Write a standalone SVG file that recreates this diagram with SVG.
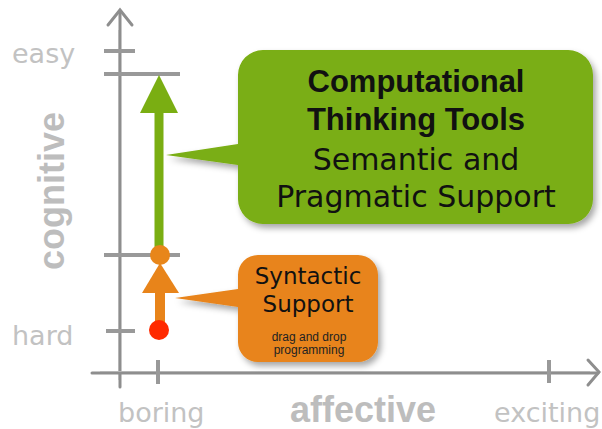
<svg xmlns="http://www.w3.org/2000/svg" width="602" height="429" viewBox="0 0 602 429">
<defs>
<filter id="sh" x="-10%" y="-10%" width="130%" height="140%">
<feDropShadow dx="3" dy="4" stdDeviation="3" flood-color="#000" flood-opacity="0.35"/>
</filter>
</defs>
<style>
.axis{stroke:#8e8e8e;stroke-width:3;fill:none;stroke-linecap:round}
.axis2{stroke:#b5b5b5;stroke-width:1;fill:none}
.tick{stroke:#999;stroke-width:4;fill:none}
.lbl{font-family:"DejaVu Sans",sans-serif;font-size:27px;fill:#c2c2c2}
.big{font-family:"Liberation Sans",Arial,sans-serif;font-weight:bold;font-size:36px;fill:#bdbdbd}
.t1{font-family:"Liberation Sans",Arial,sans-serif;font-weight:bold;font-size:31px;fill:#111;text-anchor:middle}
.t2{font-family:"DejaVu Sans",sans-serif;font-size:30px;fill:#111;text-anchor:middle}
.t3{font-family:"DejaVu Sans",sans-serif;font-size:23px;fill:#111;text-anchor:middle}
.t4{font-family:"Liberation Sans",Arial,sans-serif;font-size:12px;fill:#222;text-anchor:middle}
</style>
<g id="axes">
<line class="axis" x1="120" y1="12" x2="120" y2="387"/>
<line class="axis2" x1="118.5" y1="30" x2="118.5" y2="380"/>
<polyline class="axis" points="108,25 120,10 132,25"/>
<line class="axis" x1="92" y1="373" x2="598" y2="373"/>
<line class="axis2" x1="100" y1="371.5" x2="590" y2="371.5"/>
<polyline class="axis" points="588,360 599,372 588,385"/>
<line class="tick" x1="104" y1="51" x2="135" y2="51"/>
<line class="tick" x1="104" y1="74" x2="180" y2="74"/>
<line class="tick" x1="104" y1="255" x2="180" y2="255"/>
<line class="tick" x1="106" y1="331" x2="135" y2="331"/>
<line class="tick" x1="158" y1="360" x2="158" y2="384"/>
<line class="tick" x1="549" y1="360" x2="549" y2="383"/>
</g>
<g id="axis-labels">
<text class="lbl" x="12" y="63">easy</text>
<text class="lbl" x="12" y="345">hard</text>
<text class="big" transform="translate(64,270) rotate(-90)">cognitive</text>
<text class="lbl" x="118" y="422">boring</text>
<text class="big" x="290" y="422">affective</text>
<text class="lbl" x="494" y="422">exciting</text>
</g>
<g id="connectors">
<line x1="159" y1="255" x2="159" y2="110" stroke="#7aae12" stroke-width="9"/>
<polygon points="159,75 140,113 178,113" fill="#7aae12"/>
<line x1="160" y1="330" x2="160" y2="290" stroke="#e8841a" stroke-width="10"/>
<polygon points="160,263 142,293 179,293" fill="#e8841a"/>
</g>
<g id="node-start">
<circle cx="159" cy="330" r="10" fill="#ff2a00"/>
</g>
<g id="node-mid">
<circle cx="160" cy="255" r="10" fill="#e8861a"/>
</g>
<g id="node-ctt">
<path filter="url(#sh)" fill="#7aae12" d="M263,50 H568 A25,25 0 0 1 593,75 V199 A25,25 0 0 1 568,224 H263 A25,25 0 0 1 238,199 V165 L166,155 L238,144 V75 A25,25 0 0 1 263,50 Z"/>
<text class="t1" x="416" y="92">Computational</text>
<text class="t1" x="416" y="130">Thinking Tools</text>
<text class="t2" x="416" y="170">Semantic and</text>
<text class="t2" x="416" y="207">Pragmatic Support</text>
</g>
<g id="node-syntactic">
<path filter="url(#sh)" fill="#e8841a" d="M258,255 H358 A20,20 0 0 1 378,275 V342 A20,20 0 0 1 358,362 H258 A20,20 0 0 1 238,342 V307 L175,298 L238,289 V275 A20,20 0 0 1 258,255 Z"/>
<text class="t3" x="308" y="284">Syntactic</text>
<text class="t3" x="308" y="312">Support</text>
<text class="t4" x="309" y="341">drag and drop</text>
<text class="t4" x="309" y="354">programming</text>
</g>
</svg>
